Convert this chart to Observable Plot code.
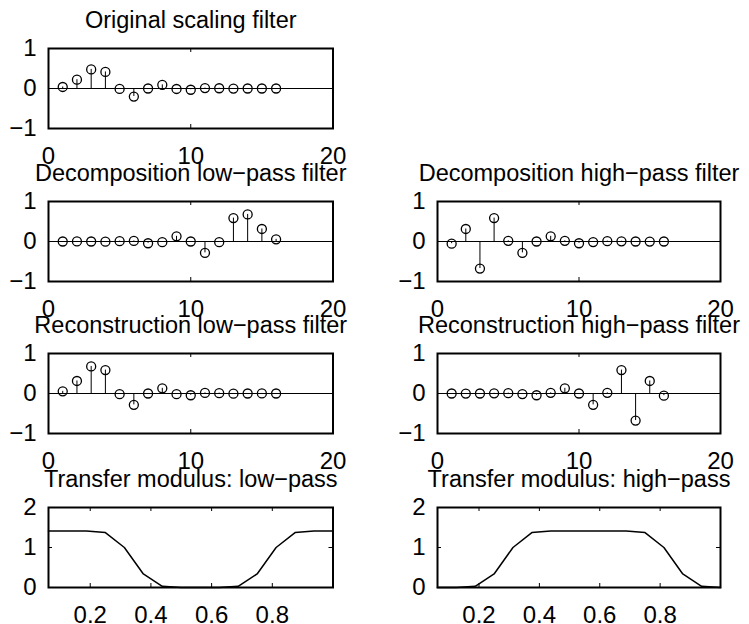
<!DOCTYPE html>
<html>
<head>
<meta charset="utf-8">
<script src="https://cdn.jsdelivr.net/npm/d3@7"></script>
<script src="https://cdn.jsdelivr.net/npm/@observablehq/plot@0.6"></script>
<style>
html, body { margin: 0; padding: 0; background: #fff; }
#fig { position: relative; width: 749px; height: 624px; overflow: hidden; background: #fff; }
#fig svg { position: absolute; overflow: visible; }
</style>
</head>
<body>
<div id="fig"></div>
<script>
// ---- data ----
const sampleIndex = [1, 2, 3, 4, 5, 6, 7, 8, 9, 10, 11, 12, 13, 14, 15, 16];
const originalScaling = [0.038, 0.221, 0.478, 0.414, -0.011, -0.201, 0.000, 0.091, -0.012, -0.031, 0.010, 0.006, -0.003, 0.000, 0.000, 0.000];
const decLowPass  = [0.000, 0.001, 0.000, -0.005, 0.009, 0.014, -0.044, -0.017, 0.129, 0.000, -0.284, -0.016, 0.585, 0.676, 0.313, 0.054];
const decHighPass = [-0.054, 0.313, -0.676, 0.585, 0.016, -0.284, 0.000, 0.129, 0.017, -0.044, -0.014, 0.009, 0.005, 0.000, -0.001, 0.000];
const recLowPass  = [0.054, 0.313, 0.676, 0.585, -0.016, -0.284, 0.000, 0.129, -0.017, -0.044, 0.014, 0.009, -0.005, 0.000, 0.001, 0.000];
const recHighPass = [0.000, -0.001, 0.000, 0.005, 0.009, -0.014, -0.044, 0.017, 0.129, 0.000, -0.284, 0.016, 0.585, -0.676, 0.313, -0.054];

const frequency = [0.0625, 0.125, 0.1875, 0.25, 0.3125, 0.375, 0.4375, 0.5, 0.5625, 0.625, 0.6875, 0.75, 0.8125, 0.875, 0.9375, 1.0];
const lowPassModulus  = [1.414, 1.414, 1.414, 1.373, 1.000, 0.339, 0.029, 0.000, 0.000, 0.000, 0.029, 0.339, 1.000, 1.373, 1.414, 1.414];
const highPassModulus = [0.000, 0.000, 0.029, 0.339, 1.000, 1.373, 1.414, 1.414, 1.414, 1.414, 1.414, 1.373, 1.000, 0.339, 0.029, 0.000];

const stemXTicks = [0, 10, 20];
const stemYTicks = [-1, 0, 1];
const freqTicks = [0.2, 0.4, 0.6, 0.8];
const modulusYTicks = [0, 1, 2];

const titles = [
  "Original scaling filter",
  "Decomposition low\u2212pass filter",
  "Decomposition high\u2212pass filter",
  "Reconstruction low\u2212pass filter",
  "Reconstruction high\u2212pass filter",
  "Transfer modulus: low\u2212pass",
  "Transfer modulus: high\u2212pass"
];

// ---- layout ----
const FONT = "'Liberation Sans', Arial, Helvetica, sans-serif";
const TICK_FS = 24, TITLE_FS = 23.5;
const ML = 50, MR = 30, MT = 50, MB = 45;
const colX = [48, 437];
const colW = [284.5, 283];
const rowY = [48, 200.5, 353, 506.5];
const FH = 80;
const fmt = d => (d < 0 ? "\u2212" + Math.abs(d) : String(d));

function frameMarks(w, h, xt, yt, title) {
  const s = {stroke: "#000", strokeWidth: 1};
  return [
    Plot.tickX(xt, {x: d => d, insetBottom: h - 4, ...s}),
    Plot.tickX(xt, {x: d => d, insetTop: h - 4, ...s}),
    Plot.tickY(yt, {y: d => d, insetRight: w - 4, ...s}),
    Plot.tickY(yt, {y: d => d, insetLeft: w - 4, ...s}),
    Plot.axisX({ticks: xt, tickSize: 0, tickPadding: 18, tickFormat: fmt, label: null, fontSize: TICK_FS, fill: "#000"}),
    Plot.axisY({ticks: yt, tickSize: 0, tickPadding: 12, tickFormat: fmt, label: null, fontSize: TICK_FS, fill: "#000"}),
    Plot.frame({stroke: "#000", strokeWidth: 2}),
    Plot.text([title], {text: d => d, frameAnchor: "top", dy: -21, lineAnchor: "bottom", fontSize: TITLE_FS, fill: "#000"})
  ];
}

function place(svg, left, top) {
  svg.style.left = (left - ML) + "px";
  svg.style.top = (top - MT) + "px";
  document.getElementById("fig").appendChild(svg);
}

const baseStyle = {background: "transparent", overflow: "visible", fontFamily: FONT, color: "#000"};

function stemPanel(values, title, col, row) {
  const w = colW[col], h = FH;
  const data = sampleIndex.map((x, i) => ({x, y: values[i]}));
  const svg = Plot.plot({
    width: ML + w + MR, height: MT + h + MB,
    marginLeft: ML, marginRight: MR, marginTop: MT, marginBottom: MB,
    style: baseStyle,
    x: {domain: [0, 20]},
    y: {domain: [-1, 1]},
    marks: [
      Plot.ruleY([0], {stroke: "#000", strokeWidth: 1}),
      Plot.ruleX(data, {x: "x", y1: 0, y2: "y", stroke: "#000", strokeWidth: 1}),
      Plot.dot(data, {x: "x", y: "y", r: 4.5, stroke: "#000", strokeWidth: 1.3, fill: "none"}),
      ...frameMarks(w, h, stemXTicks, stemYTicks, title)
    ]
  });
  place(svg, colX[col], rowY[row]);
}

function modulusPanel(values, title, col, row) {
  const w = colW[col], h = FH;
  const data = frequency.map((x, i) => ({x, y: values[i]}));
  const svg = Plot.plot({
    width: ML + w + MR, height: MT + h + MB,
    marginLeft: ML, marginRight: MR, marginTop: MT, marginBottom: MB,
    style: baseStyle,
    x: {domain: [frequency[0], frequency[frequency.length - 1]]},
    y: {domain: [0, 2]},
    marks: [
      Plot.line(data, {x: "x", y: "y", stroke: "#000", strokeWidth: 1.5}),
      ...frameMarks(w, h, freqTicks, modulusYTicks, title)
    ]
  });
  place(svg, colX[col], rowY[row]);
}

stemPanel(originalScaling, titles[0], 0, 0);
stemPanel(decLowPass, titles[1], 0, 1);
stemPanel(decHighPass, titles[2], 1, 1);
stemPanel(recLowPass, titles[3], 0, 2);
stemPanel(recHighPass, titles[4], 1, 2);
modulusPanel(lowPassModulus, titles[5], 0, 3);
modulusPanel(highPassModulus, titles[6], 1, 3);
</script>
</body>
</html>
